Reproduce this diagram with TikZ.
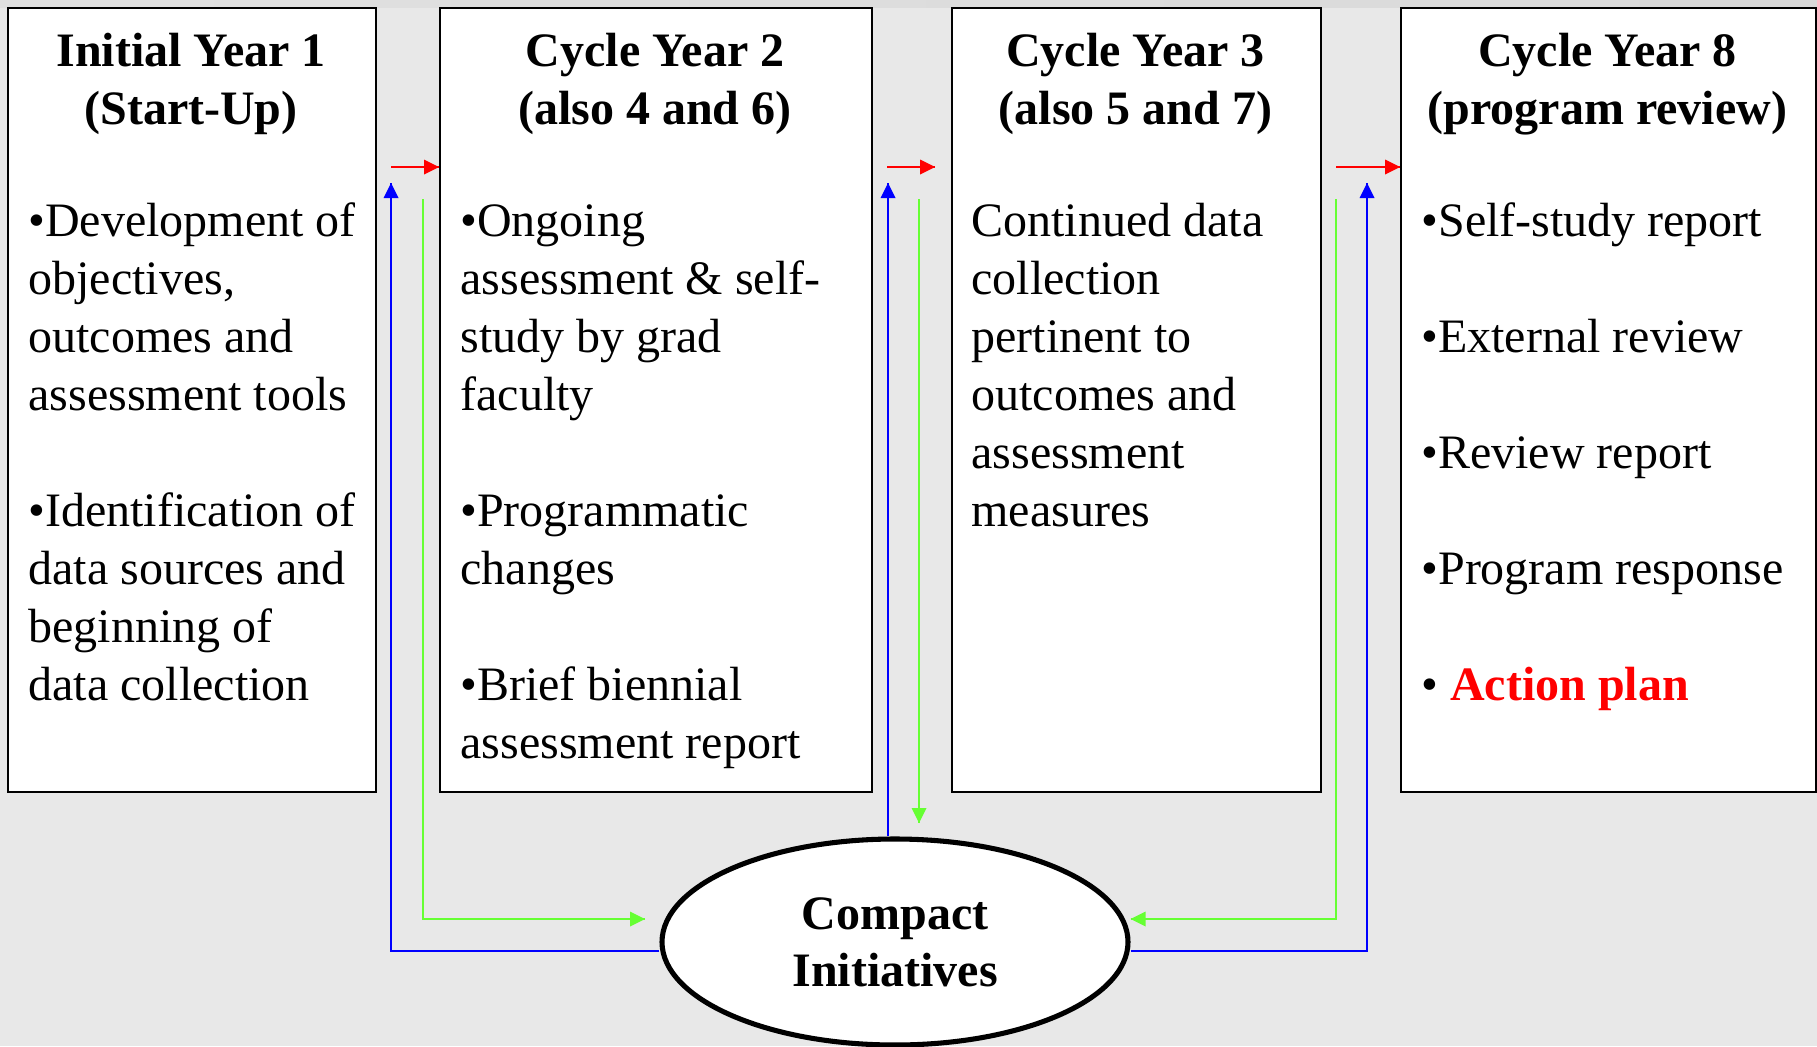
\documentclass[tikz,border=0pt]{standalone}
\usepackage{fontspec}
\setmainfont{Liberation Serif}
\usetikzlibrary{shapes.geometric}

\tikzset{every picture/.style={line width=0.75pt}}
\tikzset{
  yearbox/.style={draw, fill=white, line width=1.5, anchor=north west, inner sep=0, minimum height=588pt},
  headtext/.style={anchor=base, align=center, inner sep=0, font=\bfseries\fontsize{36}{43.5}\selectfont},
  listtext/.style={anchor=base west, align=left, inner sep=0, font=\fontsize{36}{43.5}\selectfont},
  blueline/.style={color={rgb, 255:red, 0; green, 0; blue, 255 }, line width=1.5},
  greenline/.style={color={rgb, 255:red, 102; green, 255; blue, 51 }, line width=1.5},
  redline/.style={color={rgb, 255:red, 255; green, 0; blue, 0 }, line width=1.5},
}

\begin{document}
\begin{tikzpicture}[x=0.75pt,y=0.75pt,yscale=-1,xscale=1]
	\useasboundingbox (0,0) rectangle (1817,1046);
	
	%Shape: Rectangle [background]
	\fill [color={rgb, 255:red, 232; green, 232; blue, 232 }] (0,0) rectangle (1817,1046) ;
	%Shape: Rectangle [top band]
	\shade [left color=black!12, middle color=black!90!red, right color=black!15] (0,0) rectangle (1817,7) ;
	
	%Shape: Rectangle [year boxes]
	\node [yearbox, minimum width=276pt] (y1) at (7,7) {};
	\node [yearbox, minimum width=324pt] (y2) at (439,7) {};
	\node [yearbox, minimum width=276.75pt] (y3) at (951,7) {};
	\node [yearbox, minimum width=311.25pt] (y4) at (1400,7) {};
	
	%Shape: Ellipse
	\node [draw, ellipse, fill=white, line width=3.8pt, minimum width=349.5pt, minimum height=154.5pt, inner sep=0, align=center, font=\bfseries\fontsize{36}{42.75}\selectfont] (ci) at (895,942) {Compact\\Initiatives};
	
	\coordinate (r1) at (391,167) ;
	\coordinate (b1) at (391,183) ;
	\coordinate (g1) at (423,199) ;
	\coordinate (g1t) at (645,919) ;
	\coordinate (r2) at (887,167) ;
	\coordinate (r2t) at (935,167) ;
	\coordinate (b2) at (888,183) ;
	\coordinate (g2) at (919,199) ;
	\coordinate (g2t) at (919,823) ;
	\coordinate (r3) at (1336,167) ;
	\coordinate (g3) at (1336,199) ;
	\coordinate (b3) at (1367,183) ;
	\coordinate (g3t) at ([yshift=-17.25pt]ci.east) ;
	\coordinate (r1t) at (r1 -| y2.west) ;
	\coordinate (r3t) at (r3 -| y4.west) ;
	
	%Straight Lines [red]
	\draw [redline]   (r1) -- (r1t) ;
	\draw [shift={(r1t)}, rotate = 180] [fill={rgb, 255:red, 255; green, 0; blue, 0 }  ][line width=0.08]  [draw opacity=0] (15,-7.5) -- (0,0) -- (15,7.5) -- cycle    ;
	\draw [redline]   (r2) -- (r2t) ;
	\draw [shift={(r2t)}, rotate = 180] [fill={rgb, 255:red, 255; green, 0; blue, 0 }  ][line width=0.08]  [draw opacity=0] (15,-7.5) -- (0,0) -- (15,7.5) -- cycle    ;
	\draw [redline]   (r3) -- (r3t) ;
	\draw [shift={(r3t)}, rotate = 180] [fill={rgb, 255:red, 255; green, 0; blue, 0 }  ][line width=0.08]  [draw opacity=0] (15,-7.5) -- (0,0) -- (15,7.5) -- cycle    ;
	
	%Straight Lines [blue]
	\draw [blueline]   ([yshift=6.75pt]ci.west) -| (b1) ;
	\draw [shift={(b1)}, rotate = 90] [fill={rgb, 255:red, 0; green, 0; blue, 255 }  ][line width=0.08]  [draw opacity=0] (15,-7.5) -- (0,0) -- (15,7.5) -- cycle    ;
	\draw [blueline]   (ci.north -| b2) -- (b2) ;
	\draw [shift={(b2)}, rotate = 90] [fill={rgb, 255:red, 0; green, 0; blue, 255 }  ][line width=0.08]  [draw opacity=0] (15,-7.5) -- (0,0) -- (15,7.5) -- cycle    ;
	\draw [blueline]   ([yshift=6.75pt]ci.east) -| (b3) ;
	\draw [shift={(b3)}, rotate = 90] [fill={rgb, 255:red, 0; green, 0; blue, 255 }  ][line width=0.08]  [draw opacity=0] (15,-7.5) -- (0,0) -- (15,7.5) -- cycle    ;
	
	%Straight Lines [green]
	\draw [greenline]   (g1) |- (g1t) ;
	\draw [shift={(g1t)}, rotate = 180] [fill={rgb, 255:red, 102; green, 255; blue, 51 }  ][line width=0.08]  [draw opacity=0] (15,-7.5) -- (0,0) -- (15,7.5) -- cycle    ;
	\draw [greenline]   (g2) -- (g2t) ;
	\draw [shift={(g2t)}, rotate = 270] [fill={rgb, 255:red, 102; green, 255; blue, 51 }  ][line width=0.08]  [draw opacity=0] (15,-7.5) -- (0,0) -- (15,7.5) -- cycle    ;
	\draw [greenline]   (g3) |- (g3t) ;
	\draw [shift={(g3t)}, rotate = 0] [fill={rgb, 255:red, 102; green, 255; blue, 51 }  ][line width=0.08]  [draw opacity=0] (15,-7.5) -- (0,0) -- (15,7.5) -- cycle    ;
	
	% Text Node (anchored at the last line)
	\node [headtext] (t1) at (191,124) {Initial Year 1\\(Start-Up)};
	% Text Node
	\node [headtext] (t2) at (655,124) {Cycle Year 2\\(also 4 and 6)};
	% Text Node
	\node [headtext] (t3) at (1135.5,124) {Cycle Year 3\\(also 5 and 7)};
	% Text Node
	\node [headtext] (t4) at (1607.5,124) {Cycle Year 8\\(program review)};
	
	% Text Node
	\node [listtext] (l1) at (28,700) {•Development of\\objectives,\\outcomes and\\assessment tools\\[43.5pt]•Identification of\\data sources and\\beginning of\\data collection};
	% Text Node
	\node [listtext] (l2) at (460,758) {•Ongoing\\assessment \& self-\\study by grad\\faculty\\[43.5pt]•Programmatic\\changes\\[43.5pt]•Brief biennial\\assessment report};
	% Text Node
	\node [listtext] (l3) at (971,526) {Continued data\\collection\\pertinent to\\outcomes and\\assessment\\measures};
	% Text Node
	\node [listtext] (l4) at (1421,700) {•Self-study report\\[43.5pt]•External review\\[43.5pt]•Review report\\[43.5pt]•Program response\\[43.5pt]• \textcolor{red}{\bfseries Action plan}};
	
\end{tikzpicture}
\end{document}
